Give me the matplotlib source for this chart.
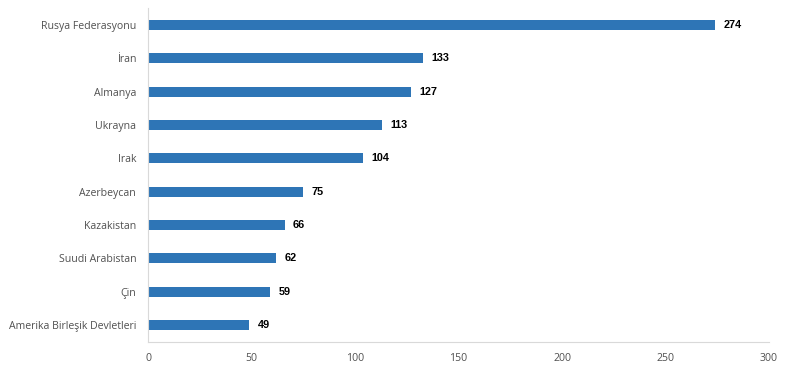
import matplotlib
matplotlib.use("Agg")
import matplotlib.pyplot as plt

countries = ["Rusya Federasyonu", "İran", "Almanya", "Ukrayna", "Irak",
             "Azerbeycan", "Kazakistan", "Suudi Arabistan", "Çin",
             "Amerika Birleşik Devletleri"]
values = [274, 133, 127, 113, 104, 75, 66, 62, 59, 49]
xticks = [0, 50, 100, 150, 200, 250, 300]

fig = plt.figure(figsize=(7.9, 3.78), dpi=100)
ax = fig.add_axes([148/790, 1-341.7/378, (769-148)/790, (341.7-8.3)/378])

ypos = list(range(len(countries)))[::-1]
ax.barh(ypos, values, height=0.3, color="#2E75B6")
for y, v in zip(ypos, values):
    ax.text(v + 4, y, str(v), va="center", ha="left", fontsize=7.8,
            fontweight="bold", color="black", family="Liberation Sans")

ax.set_ylim(-0.5, len(countries) - 0.5)
ax.set_xlim(0, 300)
ax.set_yticks(ypos)
ax.set_yticklabels(countries, fontsize=7.6, color="#505050", family="Open Sans")
ax.set_xticks(xticks)
ax.set_xticklabels([str(t) for t in xticks], fontsize=7.6, color="#505050", family="Open Sans")
ax.tick_params(axis="both", length=0)
ax.tick_params(axis="x", pad=8)
ax.tick_params(axis="y", pad=8.5)
for s in ["top", "right"]:
    ax.spines[s].set_visible(False)
for s in ["left", "bottom"]:
    ax.spines[s].set_color("#D9D9D9")
    ax.spines[s].set_linewidth(0.8)

fig.savefig("out.png", dpi=100)
